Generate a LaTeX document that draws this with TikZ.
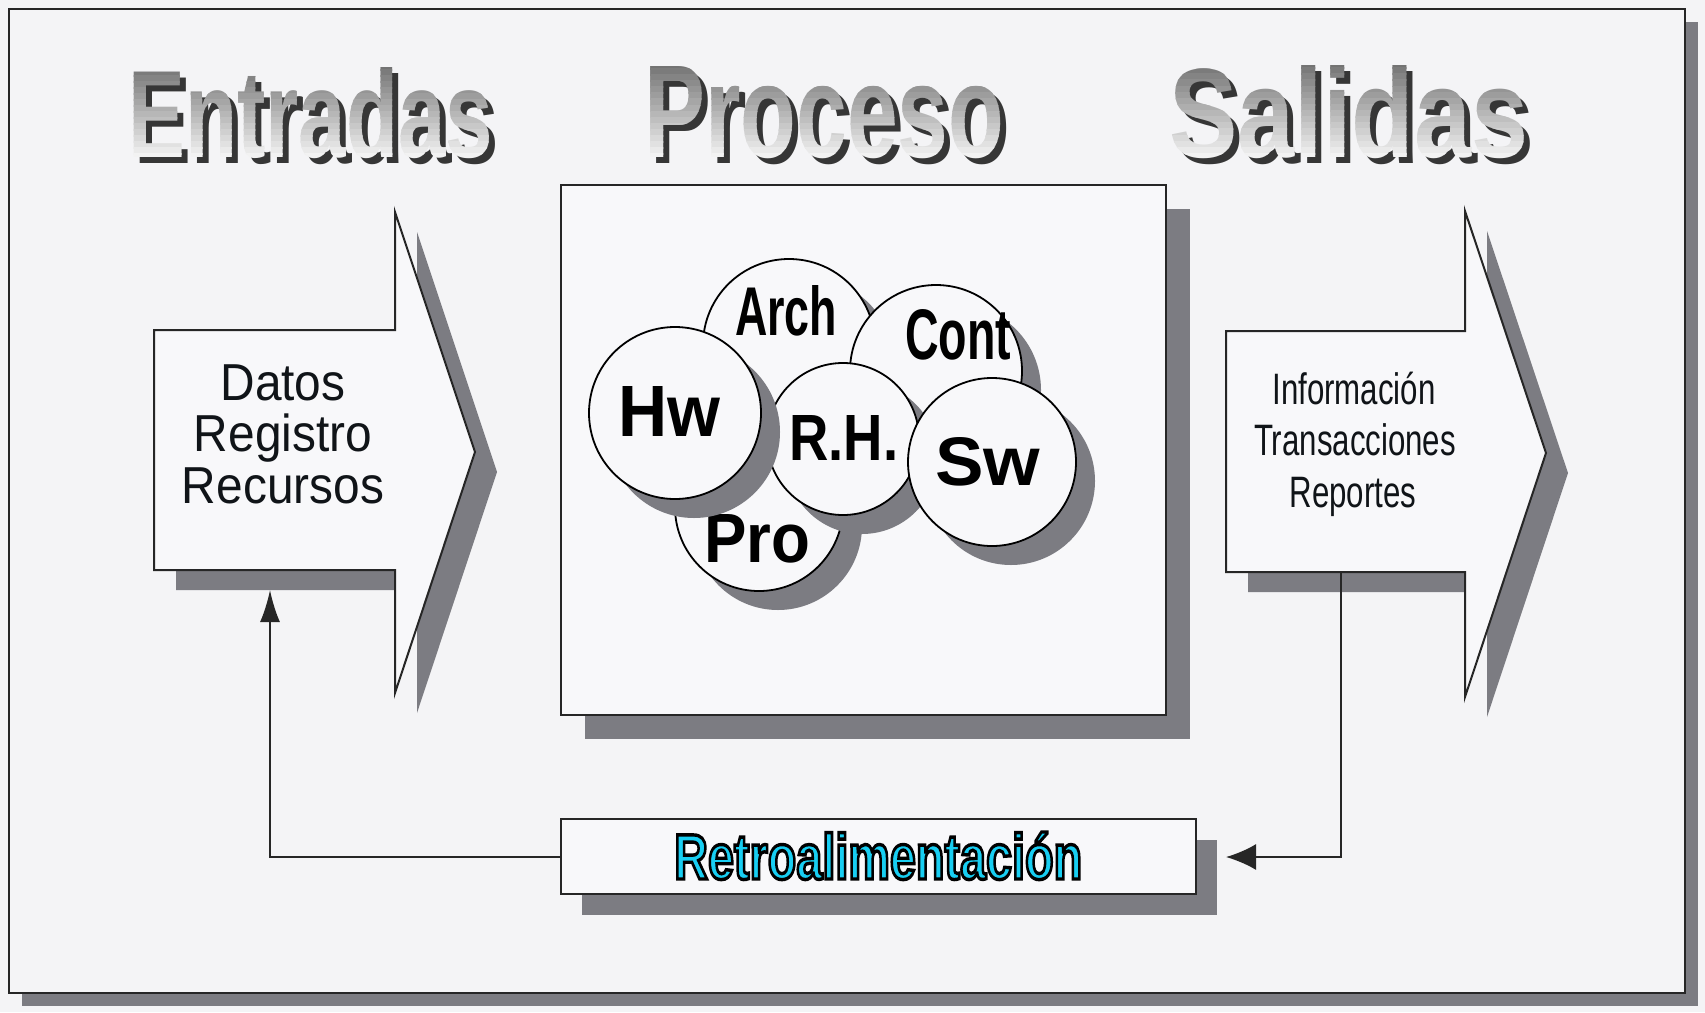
\documentclass[tikz,border=0pt]{standalone}
\usepackage{fontspec}
\setmainfont{Liberation Sans}
\usetikzlibrary{arrows.meta,shadows}
\definecolor{bg}{HTML}{F4F4F6}
\definecolor{shad}{HTML}{7C7C82}
\definecolor{ln}{HTML}{262626}
\definecolor{cyanT}{RGB}{24,206,242}
\definecolor{wfill}{HTML}{F8F8FA}
\definecolor{tshad}{HTML}{363636}
\definecolor{txt}{HTML}{101418}
\tikzset{
  sh/.style={drop shadow={shadow xshift=#1pt, shadow yshift=-#1pt, fill=shad, opacity=1}},
  framebox/.style={draw=ln, line width=2.6pt, fill=bg, inner sep=0},
  box/.style={draw=ln, line width=2pt, fill=wfill, inner sep=0},
  circ/.style={circle, draw=black, line width=1.8pt, fill=wfill, inner sep=0, sh=19},
  ttl/.style={anchor=base west, inner sep=0, font=\bfseries\fontsize{100}{100}\selectfont},
  lbl/.style={anchor=base west, inner sep=0, text=black, font=\bfseries\fontsize{60}{60}\selectfont},
  bodytxt/.style={anchor=base, inner sep=0, text=txt, font=\fontsize{52}{52}\selectfont},
  infotxt/.style={anchor=base, inner sep=0, text=txt, font=\fontsize{44}{44}\selectfont},
  arrowshape/.style={draw=ln, line width=2pt, fill=wfill, line join=miter},
  conn/.style={draw=ln, line width=2pt},
}
\newcommand\mygradtitle[6]{%
  \node[ttl, text=tshad] (#1s) at ({#2+6},{#3+6}) {\resizebox{#4pt}{#5pt}{#6}};
  \foreach \i in {0,...,15}{
    \pgfmathsetmacro\pct{55-50*\i/15}
    \pgfmathsetmacro\ya{#3-#5-3+\i*(#5+6)/16-0.4}
    \pgfmathsetmacro\yb{#3-#5-3+(\i+1)*(#5+6)/16+0.4}
    \begin{scope}
      \clip ({#2-6},\ya) rectangle ({#2+#4+6},\yb);
      \node[ttl, text=black!\pct] (#1g\i) at (#2,#3) {\resizebox{#4pt}{#5pt}{#6}};
    \end{scope}
  }
}
\newcommand\outlinedtext[1]{\special{pdf:literal direct 2 Tr 0 0 0 RG 3.2 w}#1\special{pdf:literal direct 0 Tr}}
\begin{document}
\begin{tikzpicture}[x=1pt,y=-1pt]
\useasboundingbox (0,0) rectangle (1705,1012);
\fill[bg] (0,0) rectangle (1705,1012);

% outer frame with shadow
\node[framebox, sh=13, minimum width=1676, minimum height=984] (frame) at (847,501) {};

% titles
\mygradtitle{entr}{128}{157}{365}{90}{Entradas}
\mygradtitle{proc}{644}{157}{360}{91}{Proceso}
\mygradtitle{sal}{1169}{157}{359}{92}{Salidas}

% left arrow (Entradas)
\begin{scope}[shift={(22,20)}]
  \fill[shad] (154,330) -- (395,330) -- (395,212) -- (475,452) -- (395,693) -- (395,570) -- (154,570) -- cycle;
\end{scope}
\draw[arrowshape] (154,330) -- (395,330) -- (395,212) -- (475,452) -- (395,693) -- (395,570) -- (154,570) -- cycle;
\coordinate (fbIn) at (270,590);

\node[bodytxt] (d1) at (283,400) {\scalebox{0.92}[1]{Datos}};
\node[bodytxt] (d2) at (283,451) {\scalebox{0.92}[1]{Registro}};
\node[bodytxt] (d3) at (283,503) {\scalebox{0.92}[1]{Recursos}};

% right arrow (Salidas)
\begin{scope}[shift={(22,20)}]
  \fill[shad] (1226,331) -- (1465,331) -- (1465,211) -- (1546,453) -- (1465,697) -- (1465,572) -- (1226,572) -- cycle;
\end{scope}
\draw[arrowshape] (1226,331) -- (1465,331) -- (1465,211) -- (1546,453) -- (1465,697) -- (1465,572) -- (1226,572) -- cycle;
\coordinate (fbOut) at (1341,572);

\node[infotxt] (i1) at (1354,404) {\scalebox{0.71}[1]{Información}};
\node[infotxt] (i2) at (1355,455) {\scalebox{0.71}[1]{Transacciones}};
\node[infotxt] (i3) at (1353,507) {\scalebox{0.71}[1]{Reportes}};

% process box
\node[box, sh=24, minimum width=605, minimum height=530] (procbox) at (863.5,450) {};

% circles
\node[circ, minimum size=172] (arch) at (789,345) {};
\node[lbl] (archT) at (735,335) {\resizebox{102pt}{50pt}{Arch}};
\node[circ, minimum size=172] (cont) at (936,371) {};
\node[lbl] (contT) at (905,359) {\resizebox{106pt}{50pt}{Cont}};
\node[circ, minimum size=168] (pro) at (759,507) {};
\node[lbl] (proT) at (704,562) {\resizebox{106pt}{48pt}{Pro}};
\node[circ, minimum size=152] (rh) at (843,439) {};
\node[lbl] (rhT) at (789,460) {\resizebox{109pt}{45pt}{R.H.}};
\node[circ, minimum size=172] (hw) at (675,413) {};
\node[lbl] (hwT) at (618,436) {\resizebox{102pt}{50pt}{Hw}};
\node[circ, minimum size=168] (sw) at (992,462) {};
\node[lbl] (swT) at (935,485) {\resizebox{105pt}{48pt}{Sw}};

% feedback box
\node[box, sh=21, minimum width=635, minimum height=75] (retro) at (878.5,856.5) {};
\node[lbl, text=cyanT] (rt) at (674,879) {\resizebox{408pt}{47pt}{\outlinedtext{Retroalimentación}}};

% connectors
\coordinate (fbEnd) at (1226,857);
\draw[conn, -{Latex[length=30pt,width=26pt]}] (fbOut) |- (fbEnd);
\draw[conn, -{Latex[length=32pt,width=20pt]}] (retro.west) -| (fbIn);
\end{tikzpicture}
\end{document}
